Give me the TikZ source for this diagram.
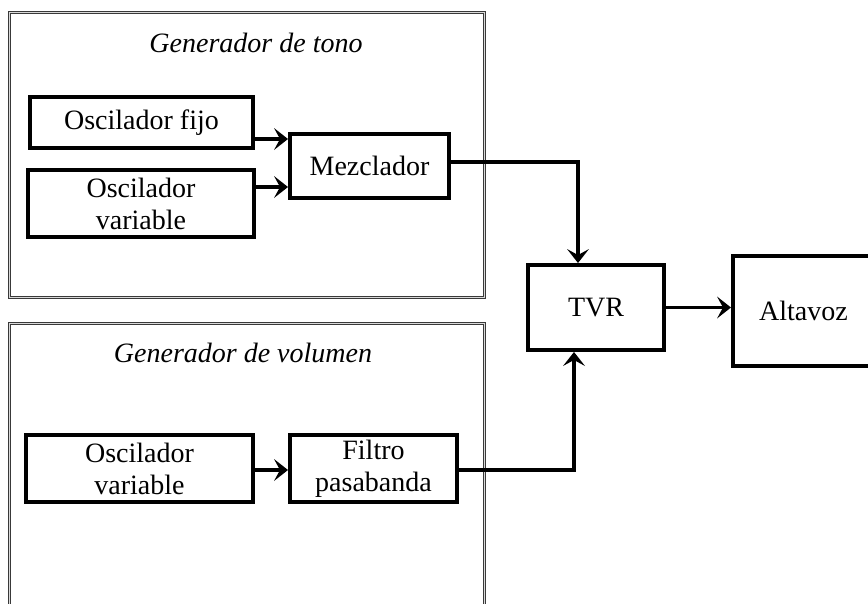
\documentclass[tikz,border=0pt]{standalone}
\usepackage{fontspec}
\setmainfont{Liberation Serif}
\usetikzlibrary{arrows.meta}
\begin{document}
\begin{tikzpicture}[x=1pt,y=-1pt,
  frame/.style={draw=gray!45!black,line width=1.2pt,double=gray!30,double distance=1.3pt},
  blk/.style={draw=black,line width=4pt,rectangle,inner sep=0pt,align=center,
    font=\fontsize{28}{32}\selectfont},
  ttl/.style={anchor=base,inner sep=0pt,font=\fontsize{28}{32}\selectfont\itshape},
  arr/.style={line width=3.6pt,-{Stealth[length=14pt,width=22pt,inset=6pt,line width=0pt]}}]
\useasboundingbox (0,0) rectangle (868,603);
% frames
\draw[frame] (9.5,12.5) rectangle (484.5,297.5);
\draw[frame] (484.5,640) -- (484.5,323.5) -- (9.5,323.5) -- (9.5,640);
\node[ttl] (t1) at (256,52) {Generador de tono};
\node[ttl] (t2) at (243,362) {Generador de volumen};
% blocks
\node[blk,minimum width=223pt,minimum height=51pt] (fijo) at (141.5,122.5) {Oscilador fijo};
\node[blk,minimum width=226pt,minimum height=67pt] (varA) at (141,203.5) {Oscilador\\variable};
\node[blk,minimum width=159pt,minimum height=64pt] (mez) at (369.5,166) {Mezclador};
\node[blk,minimum width=136pt,minimum height=85pt] (tvr) at (596,307.5) {TVR};
\node[blk,minimum width=141pt,minimum height=110pt] (alt) at (803.5,311) {Altavoz};
\node[blk,minimum width=227pt,minimum height=67pt] (varB) at (139.5,468.5) {Oscilador\\variable};
\node[blk,minimum width=167pt,minimum height=67pt] (fil) at (373.5,468.5) {Filtro\\pasabanda};
% connectors
\draw[arr] ([yshift=-16.5pt]fijo.east) -- ([yshift=-16.5pt]fijo.east -| mez.west);
\draw[arr] ([yshift=16.5pt]varA.east) -- ([yshift=16.5pt]varA.east -| mez.west);
\draw[arr] ([yshift=4pt]mez.east) -| ([xshift=-18pt]tvr.north);
\draw[arr] ([yshift=-1.5pt]fil.east) -| ([xshift=-22pt]tvr.south);
\draw[arr] (tvr.east) -- (tvr.east -| alt.west);
\draw[arr] ([yshift=-1.5pt]varB.east) -- ([yshift=-1.5pt]varB.east -| fil.west);
\end{tikzpicture}
\end{document}
